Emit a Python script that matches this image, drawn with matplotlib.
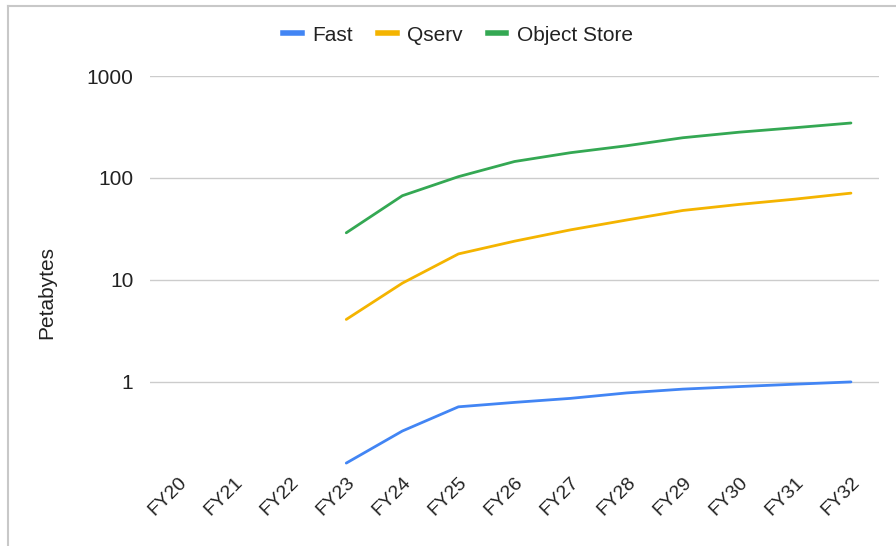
import numpy as np
import matplotlib
matplotlib.use("Agg")
import matplotlib.pyplot as plt
from matplotlib.lines import Line2D
from matplotlib.transforms import ScaledTranslation

plt.rcParams['font.family'] = ['Liberation Sans', 'DejaVu Sans']

years = ['FY20', 'FY21', 'FY22', 'FY23', 'FY24', 'FY25', 'FY26',
         'FY27', 'FY28', 'FY29', 'FY30', 'FY31', 'FY32']
# series begin at FY23 (nan before)
fast = [np.nan, np.nan, np.nan, 0.16, 0.33, 0.57, 0.63, 0.69, 0.78, 0.85, 0.90, 0.95, 1.0]
qserv = [np.nan, np.nan, np.nan, 4.1, 9.3, 18, 24, 31, 38.7, 48, 55, 62, 71]
object_store = [np.nan, np.nan, np.nan, 29, 67, 103, 145, 177, 207, 248, 281, 311, 346]

series = [('Fast', fast, '#4285F4'),
          ('Qserv', qserv, '#F4B400'),
          ('Object Store', object_store, '#34A853')]

fig = plt.figure(figsize=(8.96, 5.46), dpi=100)
ax = fig.add_axes([150/896, 1 - 469/546, 729/896, (469 - 76)/546])

x = np.arange(len(years))
for name, vals, col in series:
    ax.plot(x, vals, color=col, lw=2, solid_capstyle='round', label=name)

ax.set_yscale('log')
ax.set_ylim(0.14, 1000)
ax.set_xlim(-0.5, len(years) - 0.5)
ax.set_yticks([1, 10, 100, 1000])
ax.set_yticklabels(['1', '10', '100', '1000'])
ax.yaxis.set_minor_locator(matplotlib.ticker.NullLocator())
ax.set_xticks(x)
ax.set_xticklabels(years, rotation=45, ha='right', va='top', rotation_mode='anchor',
                   fontsize=14)
offset = ScaledTranslation(0.13, 0.0, fig.dpi_scale_trans)
for lab in ax.get_xticklabels():
    lab.set_transform(lab.get_transform() + offset)

ax.grid(axis='y', color='#cccccc', lw=1)
ax.set_axisbelow(True)
ax.tick_params(length=0, colors='#222222')
ax.tick_params(axis='y', pad=12, labelsize=15)
for s in ax.spines.values():
    s.set_visible(False)

ax.set_ylabel('Petabytes', fontsize=15, color='#222222')
ax.yaxis.set_label_coords(-0.128, 0.45)

handles = [Line2D([], [], color=c, lw=4) for _, _, c in series]
fig.legend(handles, [n for n, _, _ in series], loc='center',
           bbox_to_anchor=(458/896, 1 - 35/546), ncol=3, frameon=False,
           fontsize=15, handlelength=0.9, handletextpad=0.5, columnspacing=1.2,
           labelcolor='#222222')

# faint frame lines from the screenshot
fig.add_artist(Line2D([8/896, 8/896], [0, 1 - 6/546], color='#c8c8c8', lw=1.5))
fig.add_artist(Line2D([8/896, 1], [1 - 6/546, 1 - 6/546], color='#c8c8c8', lw=1.5))

fig.savefig('out.png', dpi=100)
